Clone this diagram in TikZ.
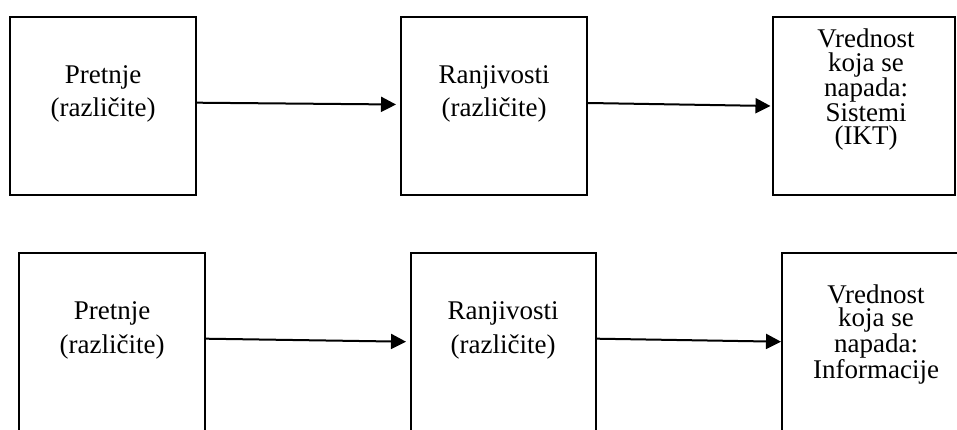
\documentclass[tikz,border=0pt]{standalone}
\usepackage{fontspec}
\setmainfont{Liberation Serif}
\usetikzlibrary{arrows.meta,calc}
\begin{document}
\begin{tikzpicture}[x=1pt,y=-1pt,
  box/.style={draw=black,line width=2pt,rectangle,inner sep=0pt,minimum width=186pt,minimum height=178pt},
  lbl/.style={font=\fontsize{27}{33.5}\selectfont,align=center,inner sep=0pt,anchor=base},
  lblr/.style={font=\fontsize{27}{23.5}\selectfont,align=center,inner sep=0pt,anchor=base},
  flow/.style={line width=2pt,-{Triangle[length=15pt,width=15pt]}}]
\useasboundingbox (0,0) rectangle (957,430);
\clip (0,0) rectangle (957,430);
% upper chain: threats -> vulnerabilities -> attacked asset (systems)
\node[box] (b1) at (103,106) {};
\node[box] (b2) at (494,106) {};
\node[box,minimum width=182pt] (b3) at (864,106) {};
\node[lbl] (t1) at (103,117) {Pretnje\\(različite)};
\node[lbl] (t2) at (494,117) {Ranjivosti\\(različite)};
\node[lblr] (t3) at (866,145) {Vrednost\\koja se\\napada:\\Sistemi\\(IKT)};
\draw[flow] ($(b1.east)+(0,-3.3)$) -- ($(b2.west)+(-4,-1.5)$);
\draw[flow] ($(b2.east)+(0,-3)$) -- ($(b3.west)+(-1.5,0)$);
% lower chain: threats -> vulnerabilities -> attacked asset (information)
\node[box,minimum height=192pt] (b4) at (112,349) {};
\node[box,minimum height=192pt,minimum width=185pt] (b5) at (503.5,349) {};
\node[box,minimum height=192pt,minimum width=188pt] (b6) at (876,349) {};
\node[lbl] (t4) at (112,353) {Pretnje\\(različite)};
\node[lbl] (t5) at (503,353) {Ranjivosti\\(različite)};
\node[lblr] (t6) at (876,378) {Vrednost\\koja se\\napada:\\Informacije};
\draw[flow] ($(b4.east)+(0,-10.3)$) -- ($(b5.west)+(-4,-7.3)$);
\draw[flow] ($(b5.east)+(0,-10.3)$) -- ($(b6.west)+(0,-7.3)$);
\end{tikzpicture}
\end{document}
